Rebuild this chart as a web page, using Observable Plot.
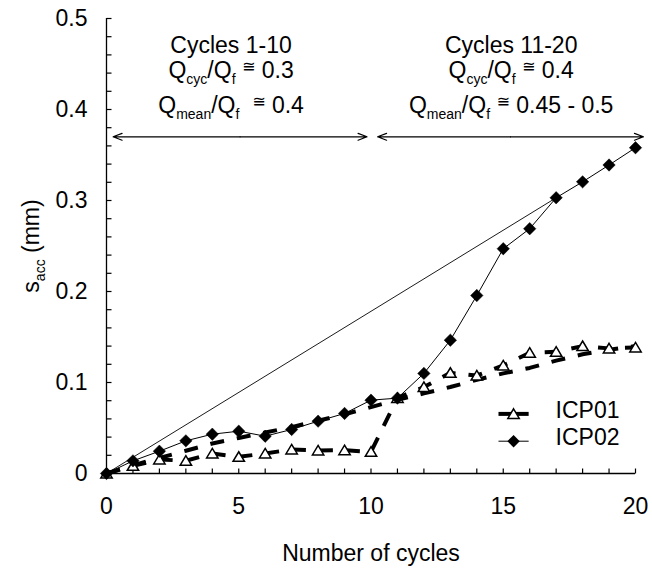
<!DOCTYPE html>
<html>
<head>
<meta charset="utf-8">
<script src="https://cdn.jsdelivr.net/npm/d3@7"></script>
<script src="https://cdn.jsdelivr.net/npm/@observablehq/plot@0.6"></script>
<style>
  html, body { margin: 0; padding: 0; background: #fff; }
  #chart { width: 652px; height: 570px; }
</style>
</head>
<body>
<div id="chart"></div>
<script>
// ---------------- data ----------------
const cycles = [0, 1, 2, 3, 4, 5, 6, 7, 8, 9, 10, 11, 12, 13, 14, 15, 16, 17, 18, 19, 20];
const icp01 = [0, 0.0084, 0.0154, 0.0140, 0.0220, 0.0183, 0.0220, 0.0264, 0.0253, 0.0256, 0.0238,
               0.0830, 0.0950, 0.1106, 0.1077, 0.1187, 0.1326, 0.1337, 0.1400, 0.1375, 0.1385];
const icp02 = [0, 0.0139, 0.0245, 0.0359, 0.0432, 0.0465, 0.0410, 0.0484, 0.0575, 0.0660, 0.0806,
               0.0828, 0.1100, 0.1465, 0.1956, 0.2470, 0.2690, 0.3030, 0.3205, 0.3390, 0.3580];
const icp01Trend = [0, 0.009, 0.017, 0.025, 0.033, 0.039, 0.045, 0.051, 0.058, 0.065, 0.073,
                    0.081, 0.088, 0.095, 0.103, 0.110, 0.116, 0.124, 0.131, 0.136, 0.140];
const secantX = [0, 17];
const secantY = [0, 0.303];
const seriesNames = ["ICP01", "ICP02"];

const xTicks = [0, 5, 10, 15, 20];
const xMinorTicks = [0, 1, 2, 3, 4, 5, 6, 7, 8, 9, 10, 11, 12, 13, 14, 15, 16, 17, 18, 19, 20];
const yTicks = [0, 0.1, 0.2, 0.3, 0.4, 0.5];
const yMinorTicks = [0, 0.02, 0.04, 0.06, 0.08, 0.1, 0.12, 0.14, 0.16, 0.18, 0.2, 0.22, 0.24,
                     0.26, 0.28, 0.3, 0.32, 0.34, 0.36, 0.38, 0.4, 0.42, 0.44, 0.46, 0.48, 0.5];
const xDomain = [0, 20];
const yDomain = [0, 0.5];

const xLabel = "Number of cycles";
const yLabel = "s_{acc} (mm)";

const phaseText = [
  ["Cycles 1-10", "Q_{cyc}/Q_{f} ^{≅} 0.3", "Q_{mean}/Q_{f}  ^{≅} 0.4"],
  ["Cycles 11-20", "Q_{cyc}/Q_{f} ^{≅} 0.4", "Q_{mean}/Q_{f} ^{≅} 0.45 - 0.5"]
];
const phaseStart = [0.25, 10.25];
const phaseEnd = [9.85, 20.3];

// ---------------- layout (not data) ----------------
const fontFamily = '"Liberation Sans", Arial, Helvetica, sans-serif';
const textCenterX = [4.71, 15.3];
const textLineY = [0.4702, 0.4422, 0.4043];
const arrowLevel = 0.37;
const legendLineX = [14.82, 15.96];
const legendTextX = 16.98;
const legendRowY = [0.0655, 0.0355];

// ---------------- build tables ----------------
const rowsIcp01 = cycles.map((c, i) => ({x: c, y: icp01[i]}));
const rowsIcp02 = cycles.map((c, i) => ({x: c, y: icp02[i]}));
const rowsTrend = cycles.map((c, i) => ({x: c, y: icp01Trend[i]}));
const rowsSecant = secantX.map((c, i) => ({x: c, y: secantY[i]}));
const annotRows = phaseText.flatMap((lines, b) => lines.map((t, l) => ({t, x: textCenterX[b], y: textLineY[l]})));
const arrowRows = phaseStart.map((s, i) => ({s, e: phaseEnd[i], m: (s + phaseEnd[i]) / 2}));
const legendRows = seriesNames.map((name, i) => ({name, y: legendRowY[i], i}));

// custom symbols
const tickRight = {draw(ctx, size) { const l = Math.sqrt(size / Math.PI); ctx.moveTo(0, 0); ctx.lineTo(l, 0); }};
const tickUp = {draw(ctx, size) { const l = Math.sqrt(size / Math.PI); ctx.moveTo(0, 0); ctx.lineTo(0, -l); }};
const triangle = {draw(ctx, size) {
  const r = Math.sqrt(size / Math.PI);
  ctx.moveTo(0, -r * 0.85); ctx.lineTo(r * 0.95, r * 0.75); ctx.lineTo(-r * 0.95, r * 0.75); ctx.closePath();
}};
const diamond = {draw(ctx, size) {
  const r = Math.sqrt(size / Math.PI);
  ctx.moveTo(0, -r); ctx.lineTo(r, 0); ctx.lineTo(0, r); ctx.lineTo(-r, 0); ctx.closePath();
}};

const dash = "14,13";

const plot = Plot.plot({
  width: 652,
  height: 570,
  marginLeft: 106,
  marginRight: 17,
  marginTop: 18,
  marginBottom: 97,
  style: {fontFamily, fontSize: "23px", color: "black", background: "white", overflow: "visible"},
  x: {domain: xDomain, axis: null},
  y: {domain: yDomain, axis: null},
  marks: [
    // axes
    Plot.ruleY([yDomain[0]], {y: d => d, x1: () => xDomain[0], x2: () => xDomain[1], stroke: "black", strokeWidth: 1.3}),
    Plot.ruleX([xDomain[0]], {x: d => d, y1: () => yDomain[0], y2: () => yDomain[1], stroke: "black", strokeWidth: 1.3}),
    Plot.dot(yMinorTicks, {x: () => xDomain[0], y: d => d, symbol: tickRight, r: 5, stroke: "black", strokeWidth: 1.2, fill: "none"}),
    Plot.dot(xMinorTicks, {x: d => d, y: () => yDomain[0], symbol: tickUp, r: 5, stroke: "black", strokeWidth: 1.2, fill: "none"}),
    Plot.axisX(xTicks, {anchor: "bottom", tickSize: 0, tickPadding: 24, label: null, fill: "black"}),
    Plot.axisY(yTicks, {anchor: "left", tickSize: 0, tickPadding: 19, label: null, tickFormat: d => String(d), fill: "black"}),
    Plot.text([xLabel], {frameAnchor: "bottom", dy: 80, textAnchor: "middle", lineAnchor: "middle", fill: "black"}),
    Plot.text([yLabel], {frameAnchor: "left", dx: -75, rotate: -90, textAnchor: "middle", lineAnchor: "middle", fill: "black"}),

    // series lines
    Plot.line(rowsSecant, {x: "x", y: "y", stroke: "black", strokeWidth: 0.9}),
    Plot.line(rowsIcp02, {x: "x", y: "y", stroke: "black", strokeWidth: 1}),
    Plot.line(rowsTrend, {x: "x", y: "y", stroke: "black", strokeWidth: 4, strokeDasharray: dash, strokeLinecap: "butt"}),
    Plot.line(rowsIcp01, {x: "x", y: "y", stroke: "black", strokeWidth: 4, strokeDasharray: dash, strokeLinecap: "butt"}),
    Plot.dot(rowsIcp01, {x: "x", y: "y", symbol: triangle, r: 6, fill: "white", stroke: "black", strokeWidth: 1.5}),
    Plot.dot(rowsIcp02, {x: "x", y: "y", symbol: diamond, r: 6.2, fill: "black", stroke: "black", strokeWidth: 0.5}),

    // phase arrows
    Plot.arrow(arrowRows, {x1: "m", x2: "s", y1: () => arrowLevel, y2: () => arrowLevel, headLength: 12, headAngle: 42, stroke: "black", strokeWidth: 1.2}),
    Plot.arrow(arrowRows, {x1: "m", x2: "e", y1: () => arrowLevel, y2: () => arrowLevel, headLength: 12, headAngle: 42, stroke: "black", strokeWidth: 1.2}),
    Plot.text(annotRows, {x: "x", y: "y", text: "t", textAnchor: "middle", lineAnchor: "middle", fill: "black"}),

    // legend
    Plot.link(legendRows, {x1: () => legendLineX[0], x2: () => legendLineX[1], y1: "y", y2: "y", stroke: "black", strokeWidth: d => d.i === 0 ? 4 : 1}),
    Plot.dot(legendRows.filter(d => d.i === 0), {x: () => (legendLineX[0] + legendLineX[1]) / 2, y: "y", symbol: triangle, r: 6, fill: "white", stroke: "black", strokeWidth: 1.5}),
    Plot.dot(legendRows.filter(d => d.i === 1), {x: () => (legendLineX[0] + legendLineX[1]) / 2, y: "y", symbol: diamond, r: 6.2, fill: "black"}),
    Plot.text(legendRows, {x: () => legendTextX, y: d => d.y + 0.004, text: "name", textAnchor: "start", lineAnchor: "middle", fill: "black"})
  ]
});

// rich text: subscripts _{..} and raised symbols ^{..}
const svgns = "http://www.w3.org/2000/svg";
function richify(el, str) {
  const parts = [];
  const re = /([_^])\{([^}]*)\}/g;
  let last = 0, m;
  while ((m = re.exec(str))) {
    if (m.index > last) parts.push({t: str.slice(last, m.index)});
    parts.push({t: m[2], k: m[1]});
    last = re.lastIndex;
  }
  if (last < str.length) parts.push({t: str.slice(last)});
  el.textContent = "";
  let shift = 0;
  for (const p of parts) {
    const ts = document.createElementNS(svgns, "tspan");
    const target = p.k === "_" ? 6 : p.k === "^" ? -6 : 0;
    const dy = target - shift;
    shift = target;
    if (dy) ts.setAttribute("dy", dy);
    if (p.k === "_") ts.setAttribute("font-size", 14);
    if (p.k === "^") { ts.setAttribute("font-size", 16); ts.setAttribute("font-family", '"DejaVu Sans", sans-serif'); }
    ts.textContent = p.t;
    el.appendChild(ts);
  }
}
plot.querySelectorAll("text").forEach(el => {
  const s = el.textContent;
  if (/[_^]\{/.test(s)) richify(el, s);
});

document.getElementById("chart").appendChild(plot);
</script>
</body>
</html>
